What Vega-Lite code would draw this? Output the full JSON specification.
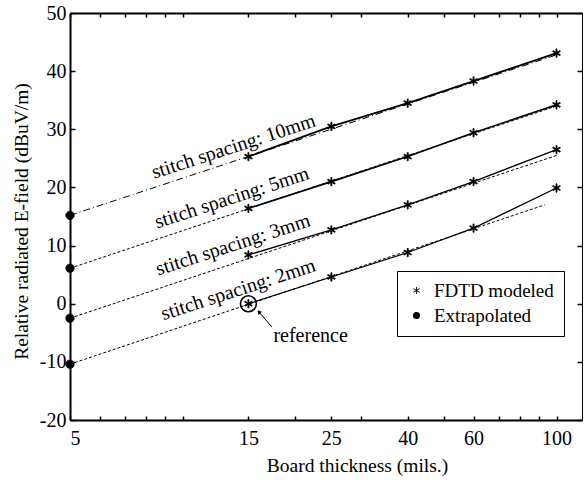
{
  "$schema": "https://vega.github.io/schema/vega-lite/v6.json",
  "width": 512,
  "height": 407,
  "autosize": {"type": "none"},
  "padding": {"left": 70, "top": 13, "right": 3, "bottom": 60},
  "background": "white",
  "config": {
    "view": {"stroke": null},
    "font": "Liberation Serif",
    "axis": {"grid": false, "domainColor": "black", "tickColor": "black", "labelColor": "black", "titleColor": "black", "labelFont": "Liberation Serif", "titleFont": "Liberation Serif", "labelFontSize": 20, "titleFontSize": 19.5, "titleFontWeight": "normal"}
  },
  "datasets": {
    "fdtd": [
      {"spacing": "10mm", "t": 15, "v": 25.3}, {"spacing": "10mm", "t": 25, "v": 30.5}, {"spacing": "10mm", "t": 40, "v": 34.5}, {"spacing": "10mm", "t": 60, "v": 38.3}, {"spacing": "10mm", "t": 100, "v": 43.1},
      {"spacing": "5mm", "t": 15, "v": 16.4}, {"spacing": "5mm", "t": 25, "v": 21.0}, {"spacing": "5mm", "t": 40, "v": 25.3}, {"spacing": "5mm", "t": 60, "v": 29.4}, {"spacing": "5mm", "t": 100, "v": 34.2},
      {"spacing": "3mm", "t": 15, "v": 8.4}, {"spacing": "3mm", "t": 25, "v": 12.7}, {"spacing": "3mm", "t": 40, "v": 17.0}, {"spacing": "3mm", "t": 60, "v": 21.0}, {"spacing": "3mm", "t": 100, "v": 26.5},
      {"spacing": "2mm", "t": 15, "v": 0}, {"spacing": "2mm", "t": 25, "v": 4.6}, {"spacing": "2mm", "t": 40, "v": 8.8}, {"spacing": "2mm", "t": 60, "v": 13.0}, {"spacing": "2mm", "t": 100, "v": 19.9}
    ],
    "extrap": [
      {"spacing": "10mm", "t": 5, "v": 15.2}, {"spacing": "10mm", "t": 100, "v": 42.8},
      {"spacing": "5mm", "t": 5, "v": 6.1}, {"spacing": "5mm", "t": 100, "v": 34.0},
      {"spacing": "3mm", "t": 5, "v": -2.5}, {"spacing": "3mm", "t": 100, "v": 25.5},
      {"spacing": "2mm", "t": 5, "v": -10.4}, {"spacing": "2mm", "t": 93, "v": 17.0}
    ],
    "markers": [
      {"kind": "FDTD modeled", "t": 15, "v": 25.3}, {"kind": "FDTD modeled", "t": 25, "v": 30.5}, {"kind": "FDTD modeled", "t": 40, "v": 34.5}, {"kind": "FDTD modeled", "t": 60, "v": 38.3}, {"kind": "FDTD modeled", "t": 100, "v": 43.1},
      {"kind": "FDTD modeled", "t": 15, "v": 16.4}, {"kind": "FDTD modeled", "t": 25, "v": 21.0}, {"kind": "FDTD modeled", "t": 40, "v": 25.3}, {"kind": "FDTD modeled", "t": 60, "v": 29.4}, {"kind": "FDTD modeled", "t": 100, "v": 34.2},
      {"kind": "FDTD modeled", "t": 15, "v": 8.4}, {"kind": "FDTD modeled", "t": 25, "v": 12.7}, {"kind": "FDTD modeled", "t": 40, "v": 17.0}, {"kind": "FDTD modeled", "t": 60, "v": 21.0}, {"kind": "FDTD modeled", "t": 100, "v": 26.5},
      {"kind": "FDTD modeled", "t": 15, "v": 0}, {"kind": "FDTD modeled", "t": 25, "v": 4.6}, {"kind": "FDTD modeled", "t": 40, "v": 8.8}, {"kind": "FDTD modeled", "t": 60, "v": 13.0}, {"kind": "FDTD modeled", "t": 100, "v": 19.9},
      {"kind": "Extrapolated", "t": 5, "v": 15.2}, {"kind": "Extrapolated", "t": 5, "v": 6.1}, {"kind": "Extrapolated", "t": 5, "v": -2.5}, {"kind": "Extrapolated", "t": 5, "v": -10.4}
    ],
    "labels": [
      {"text": "stitch spacing: 10mm", "t": 13.7, "v": 27.0},
      {"text": "stitch spacing: 5mm", "t": 13.55, "v": 18.2},
      {"text": "stitch spacing: 3mm", "t": 13.64, "v": 10.1},
      {"text": "stitch spacing: 2mm", "t": 14.1, "v": 2.4}
    ],
    "arrow": [
      {"t": 17.33, "v": -4.0}, {"t": 16.0, "v": -1.4}
    ]
  },
  "resolve": {"axis": {"x": "independent", "y": "independent"}},
  "layer": [
    {
      "data": {"name": "extrap"},
      "mark": {"type": "line", "color": "black", "strokeWidth": 1},
      "encoding": {
        "x": {"field": "t", "type": "quantitative", "scale": {"type": "log", "domain": [5, 117], "nice": false},
          "axis": {"orient": "bottom", "title": "Board thickness (mils.)", "values": [5, 6, 7, 8, 9, 10, 15, 20, 25, 30, 40, 50, 60, 70, 80, 90, 100],
            "labelExpr": "indexof([5,15,25,40,60,100], datum.value) >= 0 ? toString(datum.value) : ''", "tickSize": -4, "labelPadding": 12, "domainWidth": 2, "tickWidth": 1.5, "titlePadding": 8, "titleX": 287}},
        "y": {"field": "v", "type": "quantitative", "scale": {"domain": [-20, 50], "nice": false},
          "axis": {"orient": "left", "title": "Relative radiated E-field (dBuV/m)", "values": [-20, -10, 0, 10, 20, 30, 40, 50], "labelExpr": "toString(datum.value)", "tickSize": -5, "labelPadding": 9, "domainWidth": 2, "tickWidth": 1.5, "titlePadding": 8, "titleY": 208}},
        "detail": {"field": "spacing"},
        "strokeDash": {"field": "spacing", "type": "nominal", "scale": {"domain": ["10mm", "5mm", "3mm", "2mm"], "range": [[7, 3, 1, 3], [3, 2], [3, 2], [3, 2]]}, "legend": null}
      }
    },
    {
      "data": {"name": "fdtd"},
      "mark": {"type": "line", "color": "black"},
      "encoding": {
        "x": {"field": "t", "type": "quantitative", "axis": null},
        "y": {"field": "v", "type": "quantitative", "axis": null},
        "detail": {"field": "spacing"},
        "strokeWidth": {"field": "spacing", "type": "ordinal", "scale": {"domain": ["10mm", "5mm", "3mm", "2mm"], "range": [1.8, 1.2, 1.8, 1.4]}, "legend": null}
      }
    },
    {
      "data": {"name": "markers"},
      "mark": {"type": "point", "filled": true, "fill": "black", "stroke": "black", "strokeWidth": 0.8, "opacity": 1, "size": 70},
      "encoding": {
        "x": {"field": "t", "type": "quantitative", "axis": null},
        "y": {"field": "v", "type": "quantitative", "axis": null},
        "shape": {"field": "kind", "type": "nominal",
          "scale": {"domain": ["FDTD modeled", "Extrapolated"], "range": ["M-0.12,-1L0.12,-1L0.12,1L-0.12,1ZM-0.93,-0.396L-0.81,-0.604L0.93,0.396L0.81,0.604ZM-0.81,0.604L-0.93,0.396L0.81,-0.604L0.93,-0.396Z", "circle"]},
          "legend": {"orient": "none", "legendX": 327, "legendY": 258, "title": null, "strokeColor": "black", "fillColor": "white", "padding": 10,
            "labelFont": "Liberation Serif", "labelFontSize": 19, "labelColor": "black", "symbolSize": 50, "symbolFillColor": "black", "symbolStrokeColor": "black", "symbolStrokeWidth": 0.8, "rowPadding": 5, "labelOffset": 8, "labelExpr": "datum.label + '                                  '", "labelLimit": 600,
            "encode": {"symbols": {"update": {"stroke": {"value": "black"}, "strokeWidth": {"value": 0.8}, "fill": {"value": "black"}, "opacity": {"value": 1}}}}}}
      }
    },
    {
      "data": {"values": [{"t": 15, "v": 0}]},
      "mark": {"type": "point", "shape": "circle", "size": 254, "filled": false, "stroke": "black", "strokeWidth": 1.6, "opacity": 1},
      "encoding": {
        "x": {"field": "t", "type": "quantitative", "axis": null},
        "y": {"field": "v", "type": "quantitative", "axis": null}
      }
    },
    {
      "data": {"name": "arrow"},
      "mark": {"type": "line", "color": "black", "strokeWidth": 1},
      "encoding": {
        "x": {"field": "t", "type": "quantitative", "axis": null},
        "y": {"field": "v", "type": "quantitative", "axis": null}
      }
    },
    {
      "data": {"values": [{"t": 16.0, "v": -1.4}]},
      "mark": {"type": "point", "shape": "triangle-up", "size": 22, "filled": true, "fill": "black", "opacity": 1, "angle": -41},
      "encoding": {
        "x": {"field": "t", "type": "quantitative", "axis": null},
        "y": {"field": "v", "type": "quantitative", "axis": null}
      }
    },
    {
      "data": {"values": [{"text": "reference", "t": 22.0, "v": -5.5}]},
      "mark": {"type": "text", "font": "Liberation Serif", "fontSize": 20, "color": "black", "align": "center", "baseline": "middle"},
      "encoding": {
        "x": {"field": "t", "type": "quantitative", "axis": null},
        "y": {"field": "v", "type": "quantitative", "axis": null},
        "text": {"field": "text"}
      }
    },
    {
      "data": {"name": "labels"},
      "mark": {"type": "text", "font": "Liberation Serif", "fontSize": 20, "color": "black", "align": "center", "baseline": "middle", "angle": -18},
      "encoding": {
        "x": {"field": "t", "type": "quantitative", "axis": null},
        "y": {"field": "v", "type": "quantitative", "axis": null},
        "text": {"field": "text"}
      }
    },
    {
      "data": {"values": [{"t": 5, "v": -20}, {"t": 117, "v": 50}]},
      "mark": {"type": "point", "opacity": 0},
      "encoding": {
        "x": {"field": "t", "type": "quantitative",
          "axis": {"orient": "top", "title": null, "labels": false, "values": [5, 6, 7, 8, 9, 10, 15, 20, 25, 30, 40, 50, 60, 70, 80, 90, 100], "tickSize": -4, "domainWidth": 2, "tickWidth": 1.5}},
        "y": {"field": "v", "type": "quantitative",
          "axis": {"orient": "right", "title": null, "labels": false, "values": [-20, -10, 0, 10, 20, 30, 40, 50], "tickSize": -5, "domainWidth": 1, "tickWidth": 1.5}}
      }
    }
  ]
}
